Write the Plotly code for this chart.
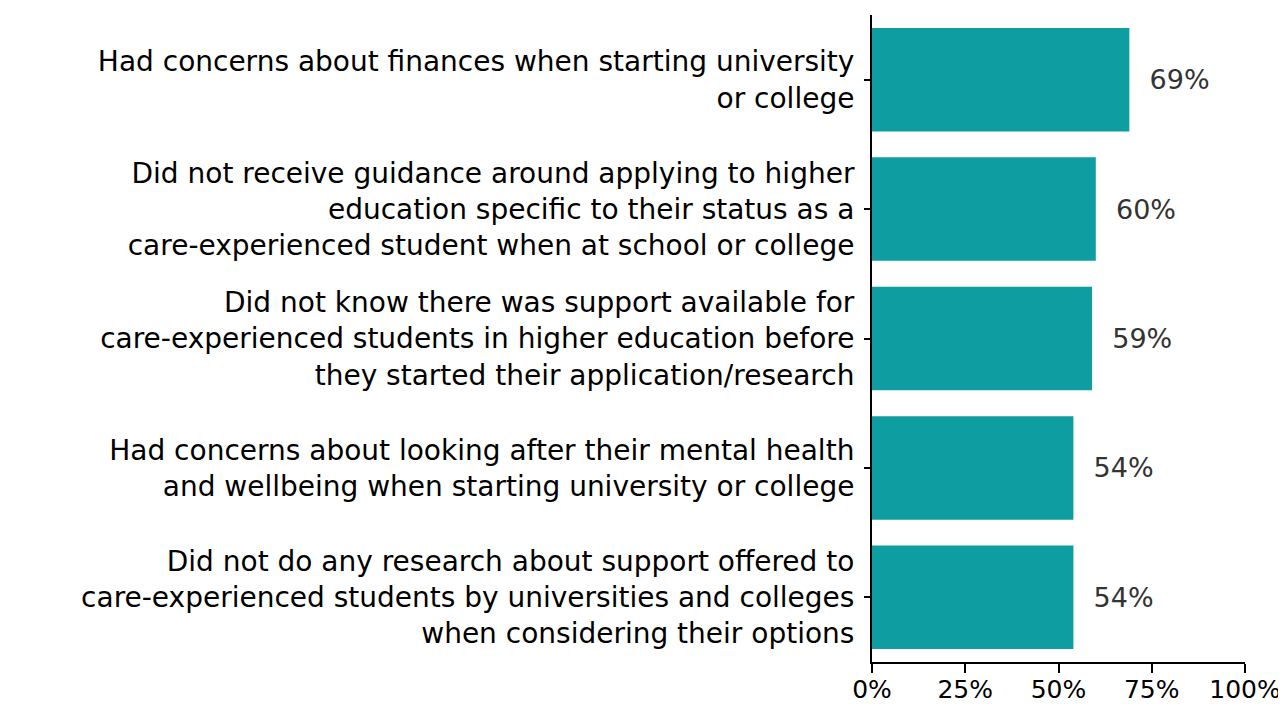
import plotly.graph_objects as go

categories = [
    "Had concerns about finances when starting university<br>or college",
    "Did not receive guidance around applying to higher<br>education specific to their status as a<br>care-experienced student when at school or college",
    "Did not know there was support available for<br>care-experienced students in higher education before<br>they started their application/research",
    "Had concerns about looking after their mental health<br>and wellbeing when starting university or college",
    "Did not do any research about support offered to<br>care-experienced students by universities and colleges<br>when considering their options",
]
values = [69, 60, 59, 54, 54]
x_ticks = [0, 25, 50, 75, 100]
x_tick_labels = ["0%", "25%", "50%", "75%", "100%"]

fig = go.Figure(go.Bar(
    x=values,
    y=categories,
    orientation="h",
    marker=dict(color="#0E9EA2", line=dict(width=0)),
    width=0.8,
    text=[f"{v}%" for v in values],
    texttemplate="\u00a0\u00a0%{text}",
    textposition="outside",
    textfont=dict(size=27, color="#333333", family="DejaVu Sans"),
    cliponaxis=False,
))

fig.update_layout(
    width=1278, height=698,
    margin=dict(l=864, r=41, t=7, b=44, autoexpand=False),
    paper_bgcolor="white", plot_bgcolor="white",
    font=dict(family="DejaVu Sans", size=28, color="black"),
    showlegend=False,
    bargap=0.2,
)
fig.update_yaxes(
    autorange="reversed", automargin=False,
    showline=True, linecolor="black", linewidth=2,
    ticks="outside", ticklen=6, tickcolor="black", tickwidth=2,
    ticklabelstandoff=4,
    tickfont=dict(size=28, color="black"),
    showgrid=False,
)
fig.update_xaxes(
    range=[0, 100], tickvals=x_ticks, ticktext=x_tick_labels,
    automargin=False,
    showline=True, linecolor="black", linewidth=2,
    ticks="outside", ticklen=9, tickcolor="black", tickwidth=2,
    ticklabelstandoff=-5,
    tickfont=dict(size=25, color="black"),
    showgrid=False, zeroline=False,
)

fig.write_html("out.html")
